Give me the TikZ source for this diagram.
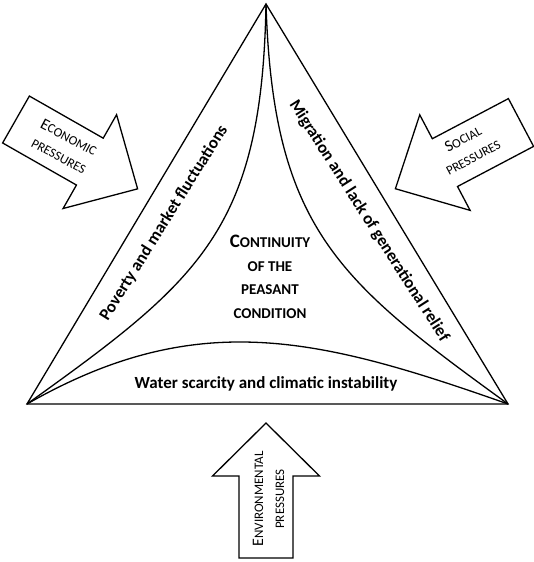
\documentclass[tikz,border=0pt]{standalone}
\usepackage{fontspec}
\setmainfont{Carlito}
\newcommand{\presscap}[1]{{\fontsize{16}{16}\selectfont #1}}
\newcommand{\titlecap}[1]{{\fontsize{19}{19}\selectfont #1}}
\begin{document}
\begin{tikzpicture}[x=1pt,y=-1pt,
  edge/.style={line width=1.3pt, line join=miter},
  blockarrow/.style={line width=1.3pt, line join=miter, fill=white},
  band/.style={font=\fontsize{17}{17}\selectfont\bfseries, inner sep=0pt},
  press/.style={font=\fontsize{13}{21}\selectfont, align=center, inner sep=0pt},
  titlebox/.style={font=\fontsize{15}{23.5}\selectfont\bfseries, align=center, inner sep=0pt}]
\useasboundingbox (0,0) rectangle (533,562);
% triangle
\coordinate (top) at (266,4);
\coordinate (bl) at (27,404);
\coordinate (br) at (508,404);
\draw[edge] (bl) -- (top) -- (br) -- cycle;
\draw[edge] (top) .. controls (262,230) and (200,280) .. (bl);
\draw[edge] (top) .. controls (273,230) and (340,282) .. (br);
\draw[edge] (bl) .. controls (197,307) and (318,337) .. (br);
% band labels
\node[band, rotate=58] (poverty) at (164,223) {Poverty and market fluctuations};
\node[band, rotate=-57.4] (migration) at (369,221) {Migration and lack of generational relief};
\node[band] (water) at (266,384) {Water scarcity and climatic instability};
% centre
\node[titlebox] (continuity) at (270,277) {\titlecap{C}ONTINUITY\\OF THE\\PEASANT\\CONDITION};
% economic arrow
\begin{scope}[shift={(16,119.5)}, rotate=-29.7]
\draw[blockarrow] (0,27) -- (85,27) -- (85,54) -- (140,0) -- (85,-54) -- (85,-27) -- (0,-27) -- cycle;
\end{scope}
\node[press, rotate=-28] (econ) at (64,146.5) {\presscap{E}CONOMIC\\PRESSURES};
% social arrow
\begin{scope}[shift={(521,122.5)}, rotate=207.8]
\draw[blockarrow] (0,27) -- (86,27) -- (86,54) -- (142,0) -- (86,-54) -- (86,-27) -- (0,-27) -- cycle;
\end{scope}
\node[press, rotate=28] (social) at (468,148) {\presscap{S}OCIAL\\PRESSURES};
% environmental arrow
\begin{scope}[shift={(266,558)}, rotate=90]
\draw[blockarrow] (0,27) -- (82,27) -- (82,53.5) -- (135,0) -- (82,-53.5) -- (82,-27) -- (0,-27) -- cycle;
\end{scope}
\node[press, rotate=90] (env) at (268.5,499) {\presscap{E}NVIRONMENTAL\\PRESSURES};
\end{tikzpicture}
\end{document}
